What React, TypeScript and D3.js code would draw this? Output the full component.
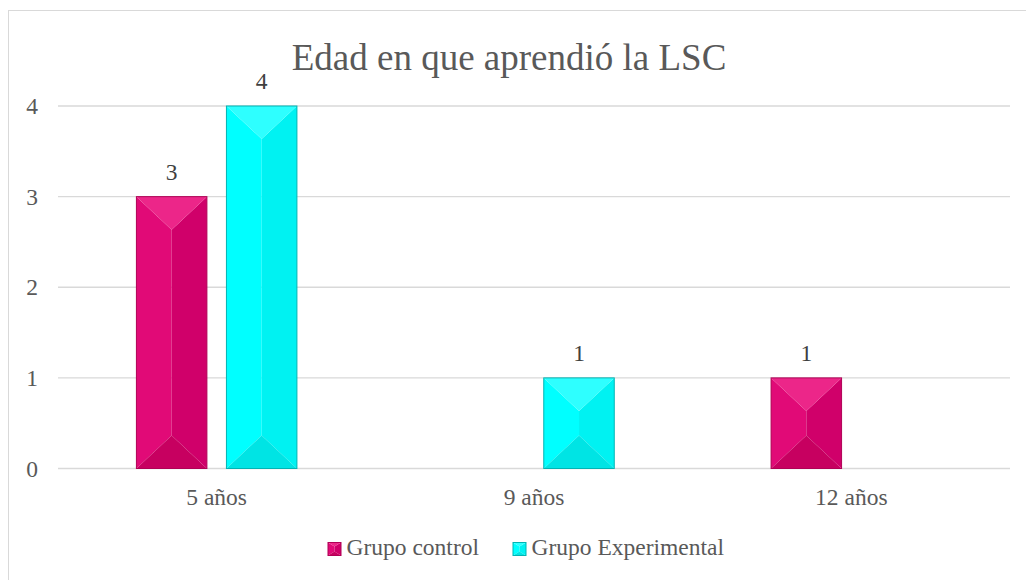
import React from "react";
import * as d3 from "d3";

const categories = ["5 años", "9 años", "12 años"];
const seriesNames = ["Grupo control", "Grupo Experimental"];
const controlValues = [3, 0, 1];
const experimentalValues = [4, 1, 0];
const yTicks = [0, 1, 2, 3, 4];
const title = "Edad en que aprendió la LSC";

const W = 1026;
const H = 580;
const TXT = { fontFamily: "Liberation Serif" };

type Palette = { top: string; left: string; right: string; bottom: string; stroke: string };
const palettes: Palette[] = [
  { top: "#EC2689", left: "#E10A77", right: "#D0006A", bottom: "#C70060", stroke: "#B00055" },
  { top: "#2EFFFF", left: "#00FFFF", right: "#00F2F2", bottom: "#00E4E4", stroke: "#00B4B4" },
];

function BevelRect({ x0, x1, y0, y1, depth, pal }: { x0: number; x1: number; y0: number; y1: number; depth: number; pal: Palette }) {
  const w = x1 - x0;
  const h = y1 - y0;
  const d = Math.min(depth, h / 2);
  const cx = x0 + w / 2;
  const pts = (a: number[][]) => a.map((p) => p.join(",")).join(" ");
  return (
    <g>
      <polygon points={pts([[x0, y0], [cx, y0 + d], [cx, y1 - d], [x0, y1]])} fill={pal.left} />
      <polygon points={pts([[x1, y0], [cx, y0 + d], [cx, y1 - d], [x1, y1]])} fill={pal.right} />
      <polygon points={pts([[x0, y0], [x1, y0], [cx, y0 + d]])} fill={pal.top} />
      <polygon points={pts([[x0, y1], [x1, y1], [cx, y1 - d]])} fill={pal.bottom} />
      <rect x={x0} y={y0} width={w} height={h} fill="none" stroke={pal.stroke} strokeWidth={1} />
    </g>
  );
}

export default function App() {
  const plotLeft = 58;
  const plotRight = 1010;
  const plotTop = 106;
  const plotBottom = 468.5;

  const x0 = d3.scaleBand<string>().domain(categories).range([plotLeft, plotRight]).padding(0);
  const groupWidth = 160.5;
  const x1 = d3.scaleBand<string>().domain(seriesNames).range([0, groupWidth]).paddingInner(0.217).paddingOuter(0);
  const y = d3.scaleLinear().domain([0, 4]).range([plotBottom, plotTop]);

  const seriesValues = [controlValues, experimentalValues];

  const bars: React.ReactNode[] = [];
  const labels: React.ReactNode[] = [];
  categories.forEach((cat, ci) => {
    const gStart = (x0(cat) as number) + (x0.bandwidth() - groupWidth) / 2;
    seriesNames.forEach((s, si) => {
      const v = seriesValues[si][ci];
      if (!v) return;
      const bx = gStart + (x1(s) as number);
      const bw = x1.bandwidth();
      bars.push(
        <BevelRect key={`b-${ci}-${si}`} x0={bx} x1={bx + bw} y0={y(v)} y1={y(0)} depth={33} pal={palettes[si]} />
      );
      labels.push(
        <text key={`l-${ci}-${si}`} x={bx + bw / 2} y={y(v) - 17} textAnchor="middle" fontSize={23.5} fill="#404040" style={TXT}>
          {v}
        </text>
      );
    });
  });

  const legendItems = [
    { x: 328, name: seriesNames[0], pal: palettes[0] },
    { x: 513, name: seriesNames[1], pal: palettes[1] },
  ];

  return (
    <svg width={W} height={H} style={{ position: "absolute", left: 0, top: 0, background: "#fff" }}>
      <rect x={0} y={0} width={W} height={H} fill="#fff" />
      <rect x={8.5} y={10.5} width={1200} height={800} fill="#fff" stroke="#D9D9D9" strokeWidth={1} />
      <text x={509} y={70} textAnchor="middle" fontSize={37} fill="#595959" style={TXT}>
        {title}
      </text>
      {yTicks.map((t) => (
        <g key={`g-${t}`}>
          <line x1={plotLeft} x2={plotRight} y1={y(t)} y2={y(t)} stroke="#D9D9D9" strokeWidth={1.3} />
          <text x={38} y={y(t)} dy="0.35em" textAnchor="end" fontSize={23.5} fill="#595959" style={TXT}>
            {t}
          </text>
        </g>
      ))}
      {bars}
      {labels}
      {categories.map((c) => (
        <text key={`c-${c}`} x={(x0(c) as number) + x0.bandwidth() / 2} y={505} textAnchor="middle" fontSize={23.5} fill="#595959" style={TXT}>
          {c}
        </text>
      ))}
      {legendItems.map((it) => (
        <g key={it.name}>
          <BevelRect x0={it.x} x1={it.x + 13} y0={542.5} y1={555.5} depth={4} pal={it.pal} />
          <text x={it.x + 18.5} y={555} fontSize={23.5} fill="#595959" style={TXT}>
            {it.name}
          </text>
        </g>
      ))}
    </svg>
  );
}
